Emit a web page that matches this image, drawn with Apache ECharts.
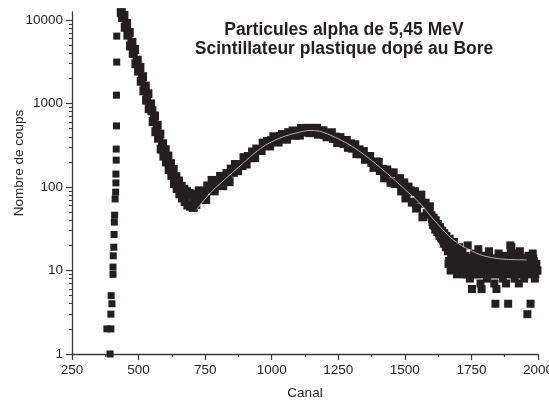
<!DOCTYPE html>
<html>
<head>
<meta charset="utf-8">
<script src="https://cdn.jsdelivr.net/npm/echarts@6/dist/echarts.min.js"></script>
<style>
html,body{margin:0;padding:0;background:#fff;}
#chart{width:549px;height:405px;}
</style>
</head>
<body>
<div id="chart"></div>
<script>
// ---- Data (channel, counts) ----
const titleLines = ['Particules alpha de 5,45 MeV', 'Scintillateur plastique dopé au Bore'];
const xName = 'Canal';
const yName = 'Nombre de coups';
const xTicks = [250, 500, 750, 1000, 1250, 1500, 1750, 2000];
const yTicks = [1, 10, 100, 1000, 10000];

const riseEdge = [[381,2],[393,1],[396,2],[396,3],[400,4],[397,5],[404,9],[404,11],[405,15],[407,19],[408,27],[409,38],[410,46],[412,72],[414,87],[415,112],[415,143],[416,210],[416,285],[417,540],[417,1260],[418,3140],[418,6430]];

const decay = [[435,12300],[440,10700],[445,11400],[450,8200],[455,9100],[460,6600],[465,7100],[470,4900],[475,5400],[480,4000],[485,4450],[490,3000],[495,3300],[500,2450],[505,2700],[510,1850],[515,2100],[520,1420],[525,1620],[530,1100],[535,1310],[540,870],[545,990],[550,820],[555,610],[560,710],[565,460],[570,550],[575,385],[580,430],[585,285],[590,330],[595,235],[600,280],[605,200],[610,235],[615,162],[620,190],[625,138],[630,162],[635,110],[640,133],[645,96],[650,118],[655,83],[660,102],[665,74],[670,94],[675,67],[680,88],[685,61],[690,84],[695,59],[700,80],[705,57],[710,76],[715,62],[720,82]];

const hump = [[728,90],[736,71],[744,88],[752,71],[760,103],[768,93],[776,120],[784,90],[792,115],[800,105],[808,134],[816,104],[824,130],[832,145],[840,116],[848,164],[856,150],[864,186],[872,157],[880,185],[888,181],[896,225],[904,189],[912,232],[920,225],[928,263],[936,225],[944,285],[952,281],[960,274],[968,336],[976,313],[984,351],[992,311],[1000,360],[1008,400],[1016,352],[1024,346],[1032,401],[1040,426],[1048,423],[1056,374],[1064,448],[1072,426],[1080,469],[1088,417],[1096,459],[1104,419],[1112,503],[1120,455],[1128,476],[1136,505],[1144,448],[1152,493],[1160,450],[1168,505],[1176,429],[1184,455],[1192,473],[1200,424],[1208,400],[1216,433],[1224,447],[1232,381],[1240,396],[1248,342],[1256,391],[1264,357],[1272,332],[1280,361],[1288,299],[1296,329],[1304,292],[1312,321],[1320,251],[1328,279],[1336,251],[1344,266],[1352,215],[1360,231],[1368,232],[1376,197],[1384,172],[1392,199],[1400,198],[1408,158],[1416,163],[1424,129],[1432,160],[1440,147],[1448,114],[1456,148],[1464,110],[1472,113],[1480,126],[1488,90],[1496,112],[1504,74],[1512,100],[1520,90],[1528,66],[1536,88],[1544,56],[1552,72],[1560,80],[1568,44],[1576,64],[1584,48],[1592,58]];

const tail = [[1600,46],[1604,38],[1608,43],[1612,34],[1616,40],[1620,31],[1624,36],[1628,28],[1632,33],[1636,25],[1640,30],[1644,23],[1648,28],[1652,21],[1656,26],[1660,19],[1664,12],[1668,24],[1672,10],[1676,18],[1680,13],[1684,22],[1688,11],[1692,16],[1696,9],[1700,14],[1704,19],[1708,12],[1712,10],[1716,17],[1720,13],[1724,9],[1728,15],[1732,11],[1736,20],[1740,12],[1744,8],[1748,14],[1752,6],[1756,11],[1760,16],[1764,10],[1768,13],[1772,9],[1776,18],[1780,12],[1784,7],[1788,6],[1792,14],[1796,10],[1800,15],[1804,11],[1808,8],[1812,13],[1816,17],[1820,9],[1824,12],[1828,10],[1832,14],[1836,7],[1840,4],[1844,6],[1848,11],[1852,16],[1856,9],[1860,13],[1864,10],[1868,8],[1872,15],[1876,12],[1880,7],[1884,11],[1888,4],[1892,14],[1896,20],[1900,19],[1904,9],[1908,12],[1912,8],[1916,16],[1920,10],[1924,13],[1928,7],[1932,17],[1936,11],[1940,9],[1944,14],[1948,8],[1952,12],[1956,10],[1960,3],[1964,15],[1968,11],[1972,4],[1976,9],[1980,16],[1984,13],[1988,8],[1992,11],[1996,10]];

const tailB = [[1602,41],[1606,35],[1610,38],[1614,31],[1618,36],[1622,29],[1626,33],[1630,26],[1634,30],[1638,24],[1642,27],[1646,21],[1650,25],[1654,19],[1658,22],[1662,17],[1666,13],[1670,20],[1674,14],[1678,11],[1682,16],[1686,12],[1690,19],[1694,13],[1698,11],[1702,15],[1706,10],[1710,13],[1714,12],[1718,10],[1722,14],[1726,11],[1730,12],[1734,9],[1738,13],[1742,11],[1746,10],[1750,12],[1754,14],[1758,9],[1762,12],[1766,11],[1770,15],[1774,10],[1778,13],[1782,11],[1786,9],[1790,12],[1794,11],[1798,13],[1802,10],[1806,12],[1810,14],[1814,11],[1818,10],[1822,13],[1826,9],[1830,12],[1834,11],[1838,10],[1842,13],[1846,12],[1850,9],[1854,11],[1858,14],[1862,12],[1866,10],[1870,11],[1874,13],[1878,9],[1882,12],[1886,10],[1890,11],[1894,13],[1898,16],[1902,12],[1906,10],[1910,11],[1914,13],[1918,9],[1922,12],[1926,11],[1930,14],[1934,10],[1938,12],[1942,11],[1946,13],[1950,9],[1954,11],[1958,12],[1962,10],[1966,13],[1970,11],[1974,12],[1978,10],[1982,14],[1986,11],[1990,9],[1994,12],[1998,10]];

const fitCurve = [[718,54],[750,72],[780,92],[812,114],[843,140],[875,172],[906,211],[937,257],[967,303],[1000,348],[1031,386],[1062,419],[1094,446],[1120,466],[1144,476],[1169,471],[1200,445],[1230,405],[1262,362],[1294,318],[1325,274],[1357,231],[1388,193],[1418,160],[1450,131],[1482,106],[1513,86],[1544,70],[1570,57],[1594,46],[1620,37],[1650,29],[1681,23.5],[1712,20],[1745,17.6],[1776,15.8],[1807,14.7],[1838,14.1],[1868,13.7],[1910,13.5],[1958,13.4]];

// ---- Chart ----
const FONT = 'Liberation Sans, Arial, Helvetica, sans-serif';
const INK = '#231f20';
const AXIS = '#3a3a3a';
const chart = echarts.init(document.getElementById('chart'), null, {renderer: 'canvas'});

function scatter(data, size) {
  return {
    type: 'scatter', symbol: 'rect', symbolSize: size, data: data,
    itemStyle: {color: INK, opacity: 1}, clip: true, silent: true, z: 2
  };
}
const plain = (v) => String(Math.round(v));

chart.setOption({
  animation: false,
  backgroundColor: '#fff',
  textStyle: {fontFamily: FONT},
  title: {
    text: titleLines.join('\n'),
    left: 344, top: 21, padding: 0,
    textAlign: 'center',
    textStyle: {fontFamily: FONT, fontSize: 17.5, fontWeight: 'bold', color: INK, lineHeight: 18.5}
  },
  grid: {left: 72, right: 11, top: 12, bottom: 51, containLabel: false, outerBoundsMode: 'none'},
  xAxis: {
    type: 'value', min: 250, max: 2000, interval: 250,
    name: xName, nameLocation: 'middle', nameGap: 32,
    nameTextStyle: {fontFamily: FONT, fontSize: 13.5, color: INK},
    axisLine: {show: true, lineStyle: {color: AXIS, width: 1.3}},
    axisTick: {show: true, length: 6, lineStyle: {color: AXIS, width: 1.2}},
    minorTick: {show: true, splitNumber: 2, length: 3, lineStyle: {color: AXIS, width: 1.2}},
    axisLabel: {fontFamily: FONT, fontSize: 13.5, color: INK, margin: 9,
      customValues: xTicks, formatter: plain},
    splitLine: {show: false}
  },
  yAxis: {
    type: 'log', logBase: 10, min: 1, max: 12500,
    axisLine: {show: true, lineStyle: {color: AXIS, width: 1.3}},
    axisTick: {show: true, length: 6, lineStyle: {color: AXIS, width: 1.2}, customValues: yTicks},
    minorTick: {show: true, splitNumber: 9, length: 3, lineStyle: {color: AXIS, width: 1}},
    axisLabel: {fontFamily: FONT, fontSize: 13.5, color: INK, margin: 9, customValues: yTicks, formatter: plain},
    splitLine: {show: false}
  },
  graphic: [{
    type: 'text', x: 19, y: 163, rotation: Math.PI / 2,
    style: {text: yName, fontFamily: FONT, fontSize: 13.5, fill: INK, textAlign: 'center', textVerticalAlign: 'middle'}
  }],
  series: [
    scatter(riseEdge, 7),
    scatter(decay, 9),
    scatter(hump, 9),
    scatter(tail, 8),
    scatter(tailB, 8),
    {
      type: 'line', data: fitCurve, smooth: true, showSymbol: false, symbol: 'none',
      lineStyle: {color: '#b8b8b8', width: 1}, clip: true, silent: true, z: 5
    }
  ]
});
</script>
</body>
</html>
